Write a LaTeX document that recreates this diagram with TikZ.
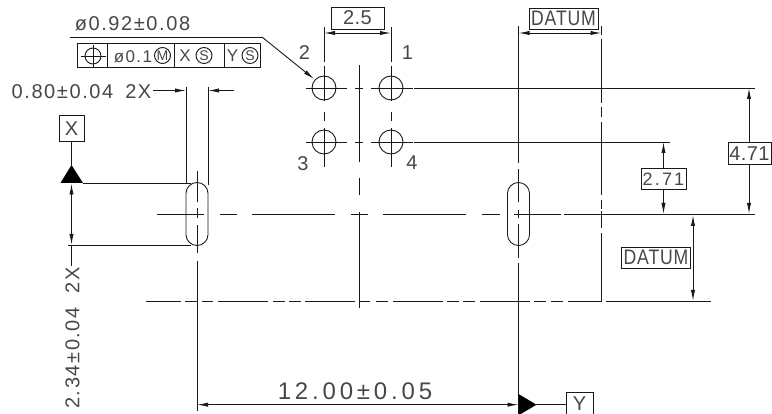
\documentclass[tikz,border=0pt]{standalone}
\usepackage{fontspec}
\usetikzlibrary{arrows.meta}
\setmainfont{Liberation Sans}
\newfontfamily\cadfont[LetterSpace=12]{Liberation Sans}
\newfontfamily\cadmid[LetterSpace=8]{Liberation Sans}
\newfontfamily\cadbig[LetterSpace=16]{Liberation Sans}
\newfontfamily\cadlow[LetterSpace=2]{Liberation Sans}
\newfontfamily\cadcap[LetterSpace=4,FakeStretch=0.84]{Liberation Sans}
\newcommand{\fz}[2]{#1\fontsize{#2}{#2}\selectfont}
\newcommand{\hsegs}[2]{\foreach \a/\b in {#2}{\draw[cad] (\a,#1) -- (\b,#1);}}
\newcommand{\vsegs}[2]{\foreach \a/\b in {#2}{\draw[cad] (#1,\a) -- (#1,\b);}}
\tikzset{
  cad/.style={line width=0.9pt,black!90},
  dimline/.style={cad,{Latex[length=11pt,width=4.2pt]}-{Latex[length=11pt,width=4.2pt]}},
  tipend/.style={cad,-{Latex[length=11pt,width=4.2pt]}},
  label/.style={inner sep=0pt,text=black!72,font=\fz{\cadmid}{20}},
  boxed/.style={draw=black!90,line width=0.9pt,inner sep=0pt,text=black!72,font=\fz{\cadlow}{20}},
  capbox/.style={boxed,font=\fz{\cadcap}{21}},
  ring/.style={circle,draw=black!90,line width=0.9pt,inner sep=0pt,minimum size=16pt,text=black!72,font=\fz{\rmfamily}{14}},
}
\begin{document}
\begin{tikzpicture}[x=1pt,y=-1pt]
\useasboundingbox (0,0) rectangle (772,414);
% --- boxed labels
\node[boxed,minimum width=53pt,minimum height=22pt] (b25) at (357.5,18) {2.5};
\node[capbox,minimum width=69pt,minimum height=21pt] (bdat1) at (563.5,18.5) {DATUM};
\node[capbox,minimum width=69pt,minimum height=21pt] (bdat2) at (656,257.5) {DATUM};
\node[boxed,font=\fz{\cadfont}{18},minimum width=45pt,minimum height=21pt] (b271) at (663.5,179) {2.71};
\node[boxed,minimum width=43pt,minimum height=21.5pt] (b471) at (749.5,153.25) {4.71};
\node[boxed,minimum width=25pt,minimum height=26pt] (bx) at (71.5,128.7) {X};
\node[boxed,minimum width=27pt,minimum height=21.5pt] (by) at (579.5,403.25) {Y};
% --- plain labels
\node[label] (t092) at (132.5,24) {ø0.92±0.08};
\node[label] (t080) at (81.5,92) {0.80±0.04\hspace{12pt}2X};
\node[label,rotate=90] (t234) at (72.5,338) {2.34±0.04\hspace{14pt}2X};
\node[label,font=\fz{\cadbig}{24}] (t12) at (355,391) {12.00±0.05};
\node[label,font=\fz{\cadlow}{20}] (n2) at (304.5,53) {2};
\node[label,font=\fz{\cadlow}{20}] (n1) at (407.5,52.5) {1};
\node[label,font=\fz{\cadlow}{20}] (n3) at (303,163.5) {3};
\node[label,font=\fz{\cadlow}{20}] (n4) at (412,163) {4};
% --- feature control frame
\draw[cad] (77,43.5) rectangle (260,67);
\foreach \x in {107,174.5,224}{\draw[cad] (\x,43.5) -- (\x,67);}
\draw[cad] (93,56) circle (8);
\draw[cad] (80.5,56) -- (106,56);
\draw[cad] (93,45) -- (93,68);
\node[label,font=\fz{\cadmid}{17}] (t01) at (133,56.5) {ø0.1};
\node[ring] (rm) at (162.5,55.5) {M};
\node[label,font=\fz{\cadlow}{17}] (tx) at (185,56) {X};
\node[ring] (rs1) at (204,55.5) {S};
\node[label,font=\fz{\cadlow}{17}] (ty) at (232.5,56) {Y};
\node[ring] (rs2) at (250,55.5) {S};
% --- leader of the hole callout
\coordinate (lead) at (262,37);
\coordinate (holetip) at (314,79);
\draw[cad] (70,37) -- (lead);
\draw[tipend] (lead) -- (holetip);
% --- holes
\foreach \cx in {324,391}{\foreach \cy in {88,142}{\draw[cad] (\cx,\cy) circle (12);}
  \vsegs{\cx}{27/62,66/101,112/121,128/167}}
\foreach \cy in {88,142}{\hsegs{\cy}{306/347,355/363,371/413}}
\vsegs{359}{65/162,178/195,212/308}
\hsegs{88}{414/755}
\hsegs{142}{414/670}
% --- slots
\draw[cad,rounded corners=10.9pt] (186,182.5) rectangle (208,245.5);
\draw[cad,rounded corners=10.9pt] (507.5,182.5) rectangle (529.5,245.5);
\hsegs{214}{157/204,220/237,252/335,351/368,383/466,482/500,514/561,564/755}
\vsegs{197}{171/202,208/218,225/253,261/411}
\vsegs{518.5}{26/163,169/202,210/218,224/258,263/415}
\vsegs{601.5}{26/35,39/103,107/117,122/195,200/209,211/228,233/301}
\hsegs{301}{146/181,185/197,202/213,218/268,273/285,289/301,305/355,359/370,376/388,393/443,447/459,463/475,480/530,534/546,551/563,568/601.5,606/711}
% --- 0.80 callout
\draw[cad] (186,87) -- (186,183);
\draw[cad] (208,87) -- (208,185);
\coordinate (a1) at (153,90.5); \coordinate (a1t) at (186,90.5);
\coordinate (a2) at (234,90.5); \coordinate (a2t) at (208,90.5);
\draw[tipend] (a1) -- (a1t);
\draw[tipend] (a2) -- (a2t);
% --- datum X
\coordinate (triX) at (71.5,165);
\fill[black] (triX) -- (83,183) -- (60.5,183) -- cycle;
\draw[cad] (bx) -- (triX);
\draw[cad] (83,183) -- (191,183);
\draw[cad] (68,245) -- (191,245);
\coordinate (d1) at (71.5,183.5); \coordinate (d2) at (71.5,245);
\draw[dimline] (d1) -- (d2);
\draw[cad] (d2) -- (71.5,266);
% --- 2.5 and top DATUM
\coordinate (p1) at (324,33); \coordinate (p2) at (391,33);
\draw[dimline] (p1) -- (p2);
\coordinate (p3) at (518.5,33); \coordinate (p4) at (601.5,33);
\draw[dimline] (p3) -- (p4);
% --- right dimensions
\coordinate (r1) at (749,88); \coordinate (r2) at (749,214);
\draw[tipend] (b471.south -| r1) -- (r2);
\draw[tipend] (b471.north -| r1) -- (r1);
\coordinate (r3) at (663.5,142); \coordinate (r4) at (663.5,214);
\draw[tipend] (b271) -- (r3);
\draw[tipend] (b271) -- (r4);
\coordinate (r5) at (693,215); \coordinate (r6) at (693,301);
\draw[dimline] (r5) -- (r6);
% --- 12.00 dimension, datum Y
\coordinate (triY) at (518.5,404.7);
\coordinate (y0) at (197,404.7);
\draw[dimline] (y0) -- (triY);
\fill[black] (518.5,394) -- (536.5,404.7) -- (518.5,415.4) -- cycle;
\draw[cad] (536,404.7) -- (by.west |- triY);
\end{tikzpicture}
\end{document}
